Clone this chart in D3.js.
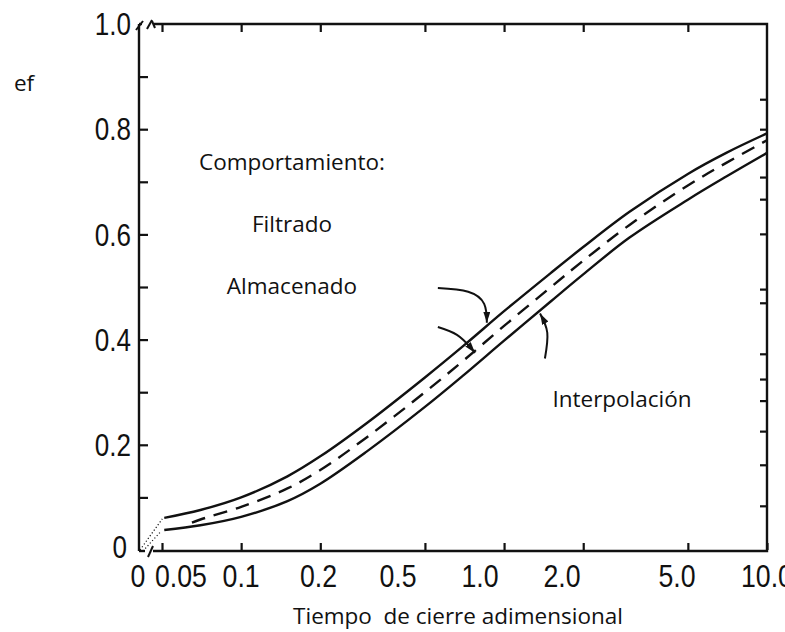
<!DOCTYPE html>
<html><head><meta charset="utf-8">
<script src="https://cdn.jsdelivr.net/npm/d3@7"></script>
<style>
body{margin:0;background:#fff}
svg{display:block}
.num{font-family:"Liberation Sans",Arial,sans-serif;font-size:31px;fill:#111}
.lbl{font-family:"Open Sans",sans-serif;font-size:22.5px;fill:#111;white-space:pre}
</style>
</head><body>
<svg id="c" width="785" height="632"></svg>
<script>
// ---- data ----
const tiempo        = [0.051, 0.07, 0.1, 0.15, 0.2, 0.3, 0.5, 0.7, 1.0, 1.5, 2.0, 3.0, 5.0, 7.0, 10.0];
const curvaSuperior = [0.061, 0.076, 0.100, 0.140, 0.178, 0.241, 0.328, 0.388, 0.454, 0.526, 0.576, 0.643, 0.715, 0.755, 0.792];
const curvaInferior = [0.038, 0.047, 0.063, 0.093, 0.126, 0.187, 0.272, 0.332, 0.398, 0.472, 0.524, 0.594, 0.666, 0.710, 0.755];
const tiempoInterp  = [0.065, 0.07, 0.1, 0.15, 0.2, 0.3, 0.5, 0.7, 1.0, 1.5, 2.0, 3.0, 5.0, 7.0, 10.0];
const curvaInterp   = [0.052, 0.058, 0.082, 0.117, 0.152, 0.214, 0.300, 0.360, 0.426, 0.499, 0.550, 0.618, 0.693, 0.736, 0.779];

const xTicks      = [0.05, 0.1, 0.2, 0.5, 1, 2, 5, 10];
const xTickLabels = ["0.05", "0.1", "0.2", "0.5", "1.0", "2.0", "5.0", "10.0"];
const xLabelAt    = [0.059, 0.1, 0.197, 0.395, 0.81, 1.66, 4.55, 10];   // where each printed label sits
const xZeroLabel  = "0";
const yTicks      = [0, 0.2, 0.4, 0.6, 0.8, 1.0];
const yTickLabels = ["0", "0.2", "0.4", "0.6", "0.8", "1.0"];
const yMinorTicks = [0.1, 0.2, 0.3, 0.4, 0.5, 0.6, 0.7, 0.8, 0.9];
const rightTicks  = [0.084, 0.162, 0.226, 0.284, 0.325, 0.373, 0.47, 0.496, 0.601, 0.667, 0.709, 0.80, 0.857];

const xTitle = "Tiempo  de cierre adimensional";
const yTitle = "ef";
const notes  = ["Comportamiento:", "Filtrado", "Almacenado", "Interpolación"];

// ---- layout ----
const L = 139, R = 767, T = 24, B = 550, X0 = 162;
const svg = d3.select("#c");
const x = d3.scaleLog().domain([0.05, 10]).range([X0, R]);
const y = d3.scaleLinear().domain([0, 1]).range([B, T]);
const ink = "#111";

function squeeze(sel, k) {
  sel.each(function () {
    const w = this.getComputedTextLength();
    d3.select(this).attr("textLength", w * k).attr("lengthAdjust", "spacingAndGlyphs");
  });
}

// inward ticks
const gB = svg.append("g").attr("transform", `translate(0,${B})`)
  .call(d3.axisBottom(x).tickValues(xTicks).tickSize(-7).tickFormat(""));
gB.select(".domain").remove();
const gT = svg.append("g").attr("transform", `translate(0,${T})`)
  .call(d3.axisTop(x).tickValues(xTicks.slice(0, -1)).tickSize(-8).tickFormat(""));
gT.select(".domain").remove();
const gLm = svg.append("g").attr("transform", `translate(${L},0)`)
  .call(d3.axisLeft(y).tickValues(yMinorTicks).tickSize(-9).tickFormat(""));
gLm.select(".domain").remove();
const gR = svg.append("g").attr("transform", `translate(${R},0)`)
  .call(d3.axisRight(y).tickValues(rightTicks).tickSize(-7).tickFormat(""));
gR.select(".domain").remove();
svg.selectAll(".tick line").attr("stroke", ink).attr("stroke-width", 2.2);

// x tick labels
const xl = svg.append("g").selectAll("text").data(xTickLabels).join("text")
  .attr("class", "num").attr("text-anchor", "middle")
  .attr("x", (d, i) => x(xLabelAt[i])).attr("y", B + 15).attr("dy", "0.71em").text(d => d);
squeeze(xl, 0.86);
const xz = svg.append("text").attr("class", "num").attr("text-anchor", "middle")
  .attr("x", L - 1).attr("y", B + 15).attr("dy", "0.71em").text(xZeroLabel);
squeeze(xz, 0.86);
// y tick labels
const yl = svg.append("g").selectAll("text").data(yTickLabels).join("text")
  .attr("class", "num").attr("text-anchor", "end")
  .attr("x", (d, i) => yTicks[i] === 0 ? L - 12 : L - 8)
  .attr("y", (d, i) => y(yTicks[i])).attr("dy", (d, i) => yTicks[i] === 0 ? "0.26em" : "0.36em").text(d => d);
squeeze(yl, 0.84);

// frame with axis breaks
const frame = svg.append("g").attr("stroke", ink).attr("stroke-width", 2.4).attr("fill", "none");
frame.append("path").attr("d", `M${L},${B + 1}V${T}`);
frame.append("path").attr("d", `M${L},${T}H${L + 3}`);
frame.append("path").attr("d", `M${L + 15},${T}H${R}V${B + 1}H${L + 14}`);
frame.append("path").attr("d", `M${L},${B + 1}H${L + 6}`);
frame.append("path").attr("stroke-width", 2).attr("d", `M${L + 9},${B + 7}L${L + 14},${B - 4}`);
frame.append("path").attr("stroke-width", 2).attr("d", `M${L - 3},${T + 6}L${L + 4},${T - 3}`);
frame.append("path").attr("stroke-width", 2).attr("d", `M${L + 8},${T + 5}L${L + 13},${T - 4}`);
frame.append("path").attr("stroke-width", 2).attr("d", `M${L + 13},${T - 3}L${L + 16},${T + 4}`);

// dotted links from the origin
const dots = svg.append("g").attr("stroke", ink).attr("stroke-width", 1.2)
  .attr("stroke-dasharray", "1.2,2.2").attr("fill", "none");
dots.append("path").attr("d", `M${L + 1},${y(0)}L${x(tiempo[0]) - 2},${y(curvaSuperior[0]) + 1}`);
dots.append("path").attr("d", `M${L + 4},${y(0) + 1}L${x(tiempo[0]) - 3},${y(curvaInferior[0]) + 1}`);

// curves
const line = (xs) => d3.line().x((d, i) => x(xs[i])).y(d => y(d)).curve(d3.curveCatmullRom.alpha(0.5));
svg.append("path").datum(curvaSuperior).attr("d", line(tiempo))
  .attr("fill", "none").attr("stroke", ink).attr("stroke-width", 2.4);
svg.append("path").datum(curvaInferior).attr("d", line(tiempo))
  .attr("fill", "none").attr("stroke", ink).attr("stroke-width", 2.4);
svg.append("path").datum(curvaInterp).attr("d", line(tiempoInterp))
  .attr("fill", "none").attr("stroke", ink).attr("stroke-width", 2.4)
  .attr("stroke-dasharray", "14,9");

// arrows (data space), tips snapped onto the curves
function at(xs, ys, xv) {
  const lx = Math.log10(xv);
  for (let i = 0; i < xs.length - 1; i++) {
    const a = Math.log10(xs[i]), b = Math.log10(xs[i + 1]);
    if (lx >= a && lx <= b) return ys[i] + (ys[i + 1] - ys[i]) * (lx - a) / (b - a);
  }
  return ys[ys.length - 1];
}
svg.append("defs").append("marker").attr("id", "ah")
  .attr("markerUnits", "userSpaceOnUse").attr("markerWidth", 12).attr("markerHeight", 8)
  .attr("refX", 11).attr("refY", 3.5).attr("orient", "auto")
  .append("path").attr("d", "M0,0L11,3.5L0,7Z").attr("fill", ink);
const arrows = [
  {pts: [[0.56, 0.498], [0.73, 0.491], [0.84, 0.468]], tx: 0.86, xs: tiempo, ys: curvaSuperior, off: 0.006},
  {pts: [[0.56, 0.424], [0.662, 0.409], [0.742, 0.386]], tx: 0.775, xs: tiempoInterp, ys: curvaInterp, off: -0.004},
  {pts: [[1.43, 0.364], [1.46, 0.413]], tx: 1.37, xs: tiempo, ys: curvaInferior, off: -0.006}
];
const aline = d3.line().x(d => x(d[0])).y(d => y(d[1])).curve(d3.curveNatural);
arrows.forEach(a => {
  const p = a.pts.concat([[a.tx, at(a.xs, a.ys, a.tx) + a.off]]);
  svg.append("path").attr("d", aline(p)).attr("fill", "none")
    .attr("stroke", ink).attr("stroke-width", 2).attr("marker-end", "url(#ah)");
});

// texts
const put = (t, cx, by) => svg.append("text").attr("class", "lbl")
  .attr("x", cx).attr("y", by).attr("text-anchor", "middle").text(t);
put(yTitle, 24, 91);
put(notes[0], 292, 170);
put(notes[1], 292, 232);
put(notes[2], 292, 294);
put(notes[3], 622, 407);
put(xTitle, 458, 624);
</script>
</body></html>
